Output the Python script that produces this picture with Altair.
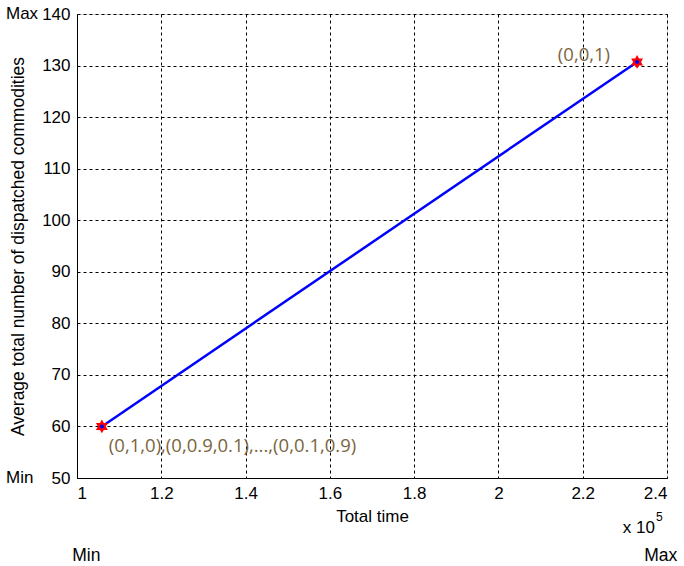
import altair as alt
import pandas as pd

# Data
x_vals = [1.059, 2.329]          # total time (x 10^5)
y_vals = [60.0, 130.7]           # average total number of dispatched commodities
x_ticks = [1.0, 1.2, 1.4, 1.6, 1.8, 2.0, 2.2, 2.4]
y_ticks = [50, 60, 70, 80, 90, 100, 110, 120, 130, 140]
ann_text = ["(0,1,0),(0,0.9,0.1),...,(0,0.1,0.9)", "(0,0,1)"]

df = pd.DataFrame({"x": x_vals, "y": y_vals})
ann = pd.DataFrame({"x": x_vals, "y": y_vals, "t": ann_text})

FONT = "Liberation Sans"
xs = alt.Scale(domain=[1.0, 2.4], nice=False, zero=False)
ys = alt.Scale(domain=[50, 140], nice=False, zero=False)

X = alt.X("x:Q", scale=xs, title="Total time",
          axis=alt.Axis(values=x_ticks, format=".2~f", grid=True, gridDash=[3, 3],
                        gridColor="black", gridOpacity=1, tickSize=0, labelPadding=7,
                        labelFontSize=17, titleFontSize=17, titleFontWeight="normal",
                        labelFont=FONT, titleFont=FONT, labelColor="black",
                        titleColor="black", domainColor="black", titlePadding=7))
Y = alt.Y("y:Q", scale=ys, title="Average total number of dispatched commodities",
          axis=alt.Axis(values=y_ticks, grid=True, gridDash=[3, 3], gridColor="black",
                        gridOpacity=1, tickSize=0, labelPadding=7,
                        labelFontSize=17, titleFontSize=17.5, titleFontWeight="normal",
                        labelFont=FONT, titleFont=FONT, labelColor="black",
                        titleColor="black", domainColor="black", titlePadding=14))

base = alt.Chart(df)
line = base.mark_line(color="#0000ff", strokeWidth=2.5).encode(x=X, y=Y)
hexagram = "M0,-1L0.866,0.5L-0.866,0.5Z M0,1L-0.866,-0.5L0.866,-0.5Z"
stars = base.mark_point(shape=hexagram, filled=True, color="#ff0000", size=190,
                        opacity=1).encode(x="x:Q", y="y:Q")
dots = base.mark_point(shape="circle", filled=True, color="#0000ff", size=16,
                       opacity=1).encode(x="x:Q", y="y:Q")

ann_low = alt.Chart(ann.iloc[[0]]).mark_text(
    align="left", baseline="middle", dx=7, dy=20, fontSize=18.5, font="Open Sans",
    color="#7a6540").encode(x="x:Q", y="y:Q", text="t:N")
ann_high = alt.Chart(ann.iloc[[1]]).mark_text(
    align="right", baseline="middle", dx=-27, dy=-7, fontSize=18.5, font="Open Sans",
    color="#7a6540").encode(x="x:Q", y="y:Q", text="t:N")

# Outer decorative labels
side = pd.DataFrame({"y": [140, 50], "t": ["Max", "Min"]})
side_lbl = alt.Chart(side).mark_text(align="left", baseline="middle", fontSize=17,
                                     font=FONT, color="black").encode(
    x=alt.value(-71), y="y:Q", text="t:N")
bottom = pd.DataFrame({"x": [1.022, 2.385], "t": ["Min", "Max"]})
bottom_lbl = alt.Chart(bottom).mark_text(align="center", baseline="middle", fontSize=17.5,
                                         font=FONT, color="black").encode(
    x="x:Q", y=alt.value(542), text="t:N")
exp = pd.DataFrame({"t": ["x 10"]})
exp_lbl = alt.Chart(exp).mark_text(align="right", baseline="middle", fontSize=17,
                                   font=FONT, color="black").encode(
    x=alt.value(578), y=alt.value(514), text="t:N")
sup = pd.DataFrame({"t": ["5"]})
sup_lbl = alt.Chart(sup).mark_text(align="left", baseline="middle", fontSize=12,
                                   font=FONT, color="black").encode(
    x=alt.value(579), y=alt.value(503), text="t:N")

chart = alt.layer(line, stars, dots, ann_low, ann_high, side_lbl, bottom_lbl,
                  exp_lbl, sup_lbl).properties(
    width=590, height=464,
    autosize=alt.AutoSizeParams(type="none"),
    padding={"left": 77, "top": 14, "right": 17, "bottom": 88},
).configure_view(stroke="black", strokeWidth=1.5).configure(background="white")

chart.save("out.html", embed_options={"renderer": "svg", "actions": False})
